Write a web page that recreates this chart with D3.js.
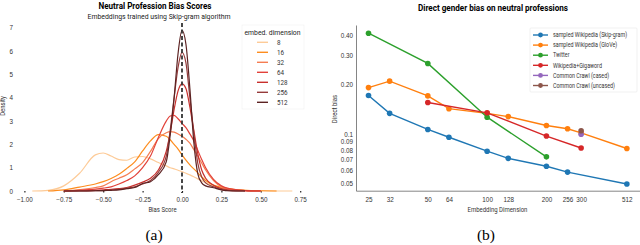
<!DOCTYPE html>
<html>
<head>
<meta charset="utf-8">
<script src="https://cdn.jsdelivr.net/npm/d3@7"></script>
<style>
  body { margin: 0; background: #fff; }
  svg { display: block; font-family: Roboto, "DejaVu Sans", sans-serif; }
</style>
</head>
<body>
<div id="chart"></div>
<script>
// ---- panel (a): KDE of bias scores per embedding dimension ----
const biasScore = [-0.95, -0.85, -0.75, -0.65, -0.55, -0.5, -0.45, -0.4, -0.35, -0.3, -0.25, -0.2, -0.15, -0.1, -0.075, -0.05, -0.025, 0, 0.025, 0.05, 0.075, 0.1, 0.125, 0.15, 0.2, 0.25, 0.3, 0.4, 0.5, 0.6, 0.7];
const dimLabels = ["8", "16", "32", "64", "128", "256", "512"];
const dimColors = ["#fdcb98", "#fd8d1f", "#f57d52", "#e2423a", "#c8302d", "#963b3b", "#5c2222"];

const dens8   = [0, 0.03, 0.22, 0.76, 1.55, 1.63, 1.5, 1.35, 1.32, 1.46, 1.48, 1.38, 1.22, 1.08, 1.0, 0.95, 0.89, 0.83, 0.76, 0.69, 0.61, 0.52, 0.44, 0.36, 0.2, 0.12, 0.07, 0.03, 0.01, 0, 0];
const dens16  = [null, 0, 0.05, 0.17, 0.3, 0.4, 0.54, 0.72, 0.97, 1.25, 1.72, 2.15, 2.42, 2.35, 2.2, 2.0, 1.8, 1.55, 1.32, 1.12, 0.95, 0.78, 0.6, 0.45, 0.25, 0.16, 0.09, 0.03, 0.01, 0, null];
const dens32  = [null, null, 0, 0.06, 0.15, 0.22, 0.4, 0.55, 0.7, 0.95, 1.22, 1.7, 2.25, 2.5, 2.55, 2.53, 2.45, 2.35, 2.22, 2.05, 1.78, 1.5, 1.2, 0.9, 0.45, 0.18, 0.08, 0.02, 0, null, null];
const dens64  = [null, null, 0, 0.03, 0.08, 0.12, 0.18, 0.3, 0.45, 0.65, 1.0, 1.5, 2.3, 3.0, 3.22, 3.25, 3.1, 2.9, 2.72, 2.45, 2.15, 1.75, 1.35, 1.0, 0.5, 0.22, 0.1, 0.02, 0, null, null];
const dens128 = [null, null, 0, 0.01, 0.03, 0.05, 0.07, 0.1, 0.15, 0.25, 0.38, 0.55, 0.9, 1.7, 2.5, 3.5, 4.3, 4.6, 4.4, 3.6, 2.6, 1.6, 0.9, 0.55, 0.25, 0.1, 0.04, 0.01, 0, null, null];
const dens256 = [null, null, 0, 0, 0.01, 0.02, 0.04, 0.07, 0.12, 0.18, 0.3, 0.45, 0.8, 1.5, 2.6, 4.0, 5.3, 5.95, 5.5, 4.0, 2.5, 1.2, 0.6, 0.35, 0.18, 0.06, 0.02, 0, null, null, null];
const dens512 = [null, null, 0, 0, 0.01, 0.02, 0.03, 0.05, 0.1, 0.15, 0.32, 0.4, 0.7, 1.25, 2.4, 4.0, 5.9, 6.9, 6.3, 4.4, 2.1, 0.75, 0.35, 0.22, 0.14, 0.05, 0.01, 0, null, null, null];
const densities = [dens8, dens16, dens32, dens64, dens128, dens256, dens512];

const scoreTicks = [-1.0, -0.75, -0.5, -0.25, 0, 0.25, 0.5, 0.75];
const densityTicks = [0, 1, 2, 3, 4, 5, 6, 7];

// ---- panel (b): direct gender bias vs embedding dimension ----
const dimTicks = [25, 32, 50, 64, 100, 128, 200, 256, 300, 512];
const biasTicks = [0.05, 0.06, 0.07, 0.08, 0.09, 0.1, 0.2, 0.3, 0.4];
const biasTickLabels = ["0.05", "0.06", "0.07", "0.08", "0.09", "0.1", "0.20", "0.30", "0.40"];

const seriesNames = ["sampled Wikipedia (Skip-gram)", "sampled Wikipedia (GloVe)", "Twitter", "Wikipedia+Gigaword", "Common Crawl (cased)", "Common Crawl (uncased)"];
const seriesColors = ["#1f77b4", "#ff7f0e", "#2ca02c", "#d62728", "#9467bd", "#8c564b"];
const skipDims = [25, 32, 50, 64, 100, 128, 200, 256, 512];
const skipBias = [0.172, 0.134, 0.107, 0.096, 0.079, 0.0715, 0.064, 0.059, 0.05];
const gloveDims = [25, 32, 50, 64, 100, 128, 200, 256, 300, 512];
const gloveBias = [0.192, 0.21, 0.171, 0.143, 0.134, 0.128, 0.113, 0.108, 0.102, 0.082];
const twitterDims = [25, 50, 100, 200];
const twitterBias = [0.41, 0.269, 0.127, 0.073];
const gigaDims = [50, 100, 200, 300];
const gigaBias = [0.156, 0.135, 0.0976, 0.0826];
const casedDims = [300];
const casedBias = [0.1];
const uncasedDims = [300];
const uncasedBias = [0.105];
const seriesDims = [skipDims, gloveDims, twitterDims, gigaDims, casedDims, uncasedDims];
const seriesBias = [skipBias, gloveBias, twitterBias, gigaBias, casedBias, uncasedBias];

const W = 640, H = 245;
const svg = d3.select("#chart").append("svg").attr("width", W).attr("height", H);

// squeeze text a bit, the original uses a narrow face
let squeeze = (sel, k) => sel.each(function() {
  let w = this.getComputedTextLength();
  d3.select(this).attr("textLength", w * k).attr("lengthAdjust", "spacingAndGlyphs");
});

/* ================= panel (a) ================= */
let xa = d3.scaleLinear().domain([-1, 0.75]).range([24.4, 300.2]);
let ya = d3.scaleLinear().domain([0, 7]).range([191, 27.9]);
let ga = svg.append("g");

let xAxisA = ga.append("g")
  .attr("transform", "translate(0,191)")
  .call(d3.axisBottom(xa).tickValues(scoreTicks).tickSize(1.5).tickPadding(5).tickFormat(d3.format(".2f")));
xAxisA.select(".domain").remove();
xAxisA.selectAll("line").attr("stroke", "#222").attr("stroke-width", 1.2);
xAxisA.selectAll("text").attr("font-size", 6.3).attr("fill", "#333");

let yAxisA = ga.append("g")
  .attr("transform", "translate(16,0)")
  .call(d3.axisLeft(ya).tickValues(densityTicks).tickSize(0).tickPadding(3).tickFormat(d3.format("d")));
yAxisA.select(".domain").remove();
yAxisA.selectAll("text").attr("font-size", 6.3).attr("fill", "#333");

let densLine = d3.line()
  .defined(d => d[1] !== null)
  .x(d => xa(d[0]))
  .y(d => ya(d[1]))
  .curve(d3.curveMonotoneX);

densities.forEach((vals, i) => {
  ga.append("path")
    .datum(biasScore.map((s, j) => [s, vals[j]]))
    .attr("d", densLine)
    .attr("fill", "none")
    .attr("stroke", dimColors[i])
    .attr("stroke-width", 1.2);
});

ga.append("line")
  .attr("x1", xa(0)).attr("x2", xa(0))
  .attr("y1", 23).attr("y2", 193)
  .attr("stroke", "#333").attr("stroke-width", 1.8)
  .attr("stroke-dasharray", "4,2.5");

ga.append("text").attr("x", 155).attr("y", 8.5).attr("text-anchor", "middle")
  .attr("font-size", 9).attr("font-weight", "bold")
  .attr("textLength", 113).attr("lengthAdjust", "spacingAndGlyphs")
  .text("Neutral Profession Bias Scores");
ga.append("text").attr("x", 159).attr("y", 18.5).attr("text-anchor", "middle")
  .attr("font-size", 7.3).attr("fill", "#222")
  .attr("textLength", 143).attr("lengthAdjust", "spacingAndGlyphs")
  .text("Embeddings trained using Skip-gram algorithm");
ga.append("text").attr("x", 162.5).attr("y", 211.5).attr("text-anchor", "middle")
  .attr("font-size", 6.8).attr("fill", "#333")
  .text("Bias Score").call(squeeze, 0.88);
ga.append("text").attr("transform", "translate(5,106) rotate(-90)").attr("text-anchor", "middle")
  .attr("font-size", 6.8).attr("fill", "#333")
  .text("Density").call(squeeze, 0.88);

// legend (a)
let legA = ga.append("g");
legA.append("rect").attr("x", 242).attr("y", 25).attr("width", 62).attr("height", 84)
  .attr("fill", "#fff").attr("fill-opacity", 0.8).attr("stroke", "#f0f0f0").attr("stroke-width", 0.6);
legA.append("text").attr("x", 272.5).attr("y", 34.5).attr("text-anchor", "middle")
  .attr("font-size", 7).attr("fill", "#222")
  .attr("textLength", 56).attr("lengthAdjust", "spacingAndGlyphs")
  .text("embed. dimension");
dimLabels.forEach((lab, i) => {
  let yy = 42.3 + i * 10;
  legA.append("line").attr("x1", 257).attr("x2", 268).attr("y1", yy).attr("y2", yy)
    .attr("stroke", dimColors[i]).attr("stroke-width", 1.4);
  legA.append("text").attr("x", 277).attr("y", yy + 2.3)
    .attr("font-size", 6.3).attr("fill", "#333").text(lab);
});

svg.append("text").attr("x", 154).attr("y", 240).attr("text-anchor", "middle")
  .attr("font-family", "'Liberation Serif', 'DejaVu Serif', serif").attr("font-size", 15.5)
  .text("(a)");

/* ================= panel (b) ================= */
let xb = d3.scaleLog().domain([21.6, 597]).range([356, 640]);
let yb = d3.scaleLog().domain([0.0455, 0.46]).range([190.7, 25]);
let gb = svg.append("g");

let xAxisB = gb.append("g")
  .attr("transform", "translate(0,190.7)")
  .call(d3.axisBottom(xb).tickValues(dimTicks).tickSize(0).tickPadding(7).tickFormat(d3.format("d")));
xAxisB.select(".domain").attr("stroke", "#666").attr("stroke-width", 0.8);
xAxisB.selectAll("text").attr("font-size", 6.3).attr("fill", "#333");

let yAxisB = gb.append("g")
  .attr("transform", "translate(356,0)")
  .call(d3.axisLeft(yb).tickValues(biasTicks).tickSize(0).tickPadding(3)
    .tickFormat((d, i) => biasTickLabels[i]));
yAxisB.select(".domain").attr("stroke", "#666").attr("stroke-width", 0.8);
yAxisB.selectAll("text").attr("font-size", 6.3).attr("fill", "#333");

let biasLine = d3.line().x(d => xb(d[0])).y(d => yb(d[1]));

seriesNames.forEach((name, i) => {
  let pts = seriesDims[i].map((d, j) => [d, seriesBias[i][j]]);
  gb.append("path").datum(pts).attr("d", biasLine)
    .attr("fill", "none").attr("stroke", seriesColors[i]).attr("stroke-width", 1.4);
  gb.append("g").selectAll("circle").data(pts).enter().append("circle")
    .attr("cx", d => xb(d[0])).attr("cy", d => yb(d[1])).attr("r", 2.8)
    .attr("fill", seriesColors[i]);
});

gb.append("text").attr("x", 493).attr("y", 10.5).attr("text-anchor", "middle")
  .attr("font-size", 9).attr("font-weight", "bold")
  .attr("textLength", 150).attr("lengthAdjust", "spacingAndGlyphs")
  .text("Direct gender bias on neutral professions");
gb.append("text").attr("x", 497.5).attr("y", 212).attr("text-anchor", "middle")
  .attr("font-size", 6.8).attr("fill", "#333")
  .text("Embedding Dimension").call(squeeze, 0.88);
gb.append("text").attr("transform", "translate(337,109) rotate(-90)").attr("text-anchor", "middle")
  .attr("font-size", 6.8).attr("fill", "#333")
  .text("Direct bias").call(squeeze, 0.88);

// legend (b)
let legB = gb.append("g");
legB.append("rect").attr("x", 530).attr("y", 28).attr("width", 107).attr("height", 64)
  .attr("fill", "#fff").attr("stroke", "#e8e8e8").attr("stroke-width", 0.6).attr("rx", 1);
seriesNames.forEach((name, i) => {
  let yy = 35 + i * 10.1;
  legB.append("line").attr("x1", 533).attr("x2", 548).attr("y1", yy).attr("y2", yy)
    .attr("stroke", seriesColors[i]).attr("stroke-width", 1.4);
  legB.append("circle").attr("cx", 540.5).attr("cy", yy).attr("r", 2.4).attr("fill", seriesColors[i]);
  legB.append("text").attr("x", 553).attr("y", yy + 2.2)
    .attr("font-size", 6.3).attr("fill", "#333").text(name).call(squeeze, 0.85);
});

svg.append("text").attr("x", 486).attr("y", 240).attr("text-anchor", "middle")
  .attr("font-family", "'Liberation Serif', 'DejaVu Serif', serif").attr("font-size", 15.5)
  .text("(b)");
</script>
</body>
</html>
